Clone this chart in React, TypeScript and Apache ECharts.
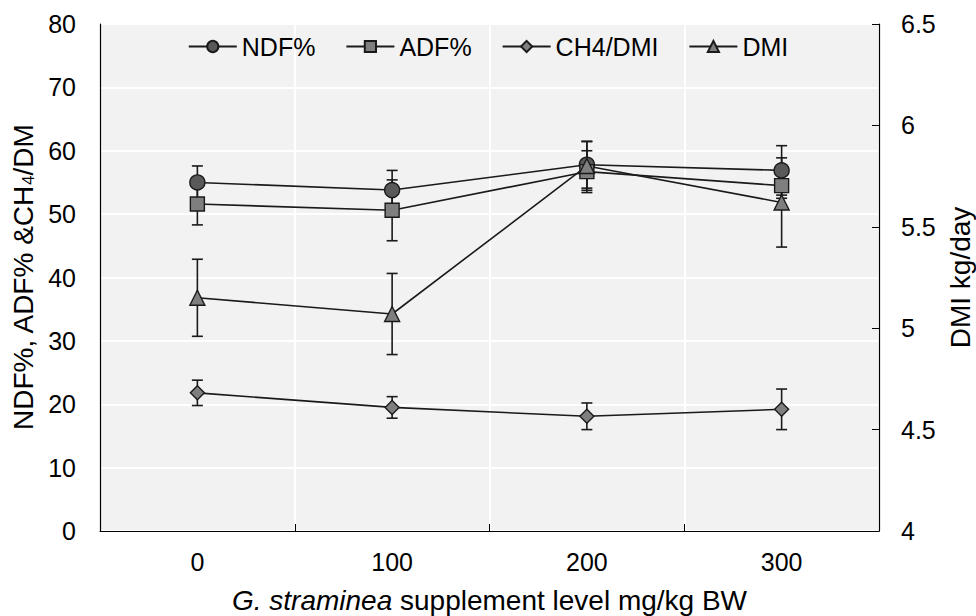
import React, { useEffect, useRef } from "react";
import * as echarts from "echarts";

const categories = ["0", "100", "200", "300"];
const ndf = [55.0, 53.8, 57.8, 56.9];
const ndfErr = [2.6, 3.1, 3.7, 3.9];
const adf = [51.6, 50.6, 56.7, 54.5];
const adfErr = [3.3, 4.8, 3.3, 2.0];
const ch4 = [21.8, 19.5, 18.1, 19.2];
const ch4Err = [2.0, 1.7, 2.1, 3.2];
const dmi = [5.15, 5.07, 5.8, 5.62];
const dmiErr = [0.19, 0.2, 0.12, 0.22];

const FONT = "'Liberation Sans', Arial, sans-serif";
const TICK = 25;
const TITLE = 28;

function errSeries(name: string, vals: number[], errs: number[], yAxisIndex: number) {
  return {
    type: "custom",
    name: name + " err",
    yAxisIndex,
    z: 1,
    silent: true,
    data: vals.map((v, i) => [i, v - errs[i], v + errs[i]]),
    encode: { x: 0, y: [1, 2] },
    renderItem: (_params: any, api: any) => {
      const x = api.value(0);
      const lo = api.coord([x, api.value(1)]);
      const hi = api.coord([x, api.value(2)]);
      const w = 5.5;
      const style = { stroke: "#1a1a1a", lineWidth: 1.6 };
      return {
        type: "group",
        children: [
          { type: "line", shape: { x1: hi[0], y1: hi[1], x2: lo[0], y2: lo[1] }, style },
          { type: "line", shape: { x1: hi[0] - w, y1: hi[1], x2: hi[0] + w, y2: hi[1] }, style },
          { type: "line", shape: { x1: lo[0] - w, y1: lo[1], x2: lo[0] + w, y2: lo[1] }, style },
        ],
      };
    },
  };
}

function lineSeries(name: string, vals: number[], symbol: string, size: number, color: string, yAxisIndex: number) {
  return {
    type: "line",
    name,
    yAxisIndex,
    z: 3,
    data: vals,
    symbol,
    symbolSize: size,
    showAllSymbol: true,
    lineStyle: { color: "#1a1a1a", width: 1.6 },
    itemStyle: { color, borderColor: "#1a1a1a", borderWidth: 1.4 },
  };
}

export default function App() {
  const ref = useRef<HTMLDivElement>(null);
  useEffect(() => {
    document.body.style.margin = "0";
    if (!ref.current) return;
    const chart = echarts.init(ref.current, null, { renderer: "svg" });
    chart.setOption({
      animation: false,
      textStyle: { fontFamily: FONT },
      grid: {
        left: 100,
        right: 97,
        top: 24,
        bottom: 85,
        show: true,
        backgroundColor: "#f2f2f2",
        borderWidth: 0,
        containLabel: false,
        outerBoundsMode: "none",
      },
      legend: {
        top: 29,
        left: "center",
        itemWidth: 48,
        itemHeight: 14,
        itemGap: 30,
        textStyle: { fontSize: 25, color: "#000", fontFamily: FONT },
        data: ["NDF%", "ADF%", "CH4/DMI", "DMI"],
      },
      xAxis: {
        type: "category",
        data: categories,
        boundaryGap: true,
        axisLine: { lineStyle: { color: "#000", width: 1.2 } },
        axisTick: { show: true, inside: true, length: 7, lineStyle: { color: "#000" } },
        axisLabel: { fontSize: TICK, color: "#000", margin: 18, fontFamily: FONT },
        splitLine: { show: true, lineStyle: { color: "#ffffff", width: 2 } },
        name: "{i|G. straminea} supplement level mg/kg BW",
        nameLocation: "middle",
        nameGap: 55,
        nameTextStyle: {
          fontSize: TITLE,
          color: "#000",
          fontFamily: FONT,
          rich: { i: { fontStyle: "italic", fontSize: TITLE, color: "#000", fontFamily: FONT } },
        },
      },
      yAxis: [
        {
          type: "value",
          min: 0,
          max: 80,
          interval: 10,
          axisLine: { show: true, lineStyle: { color: "#000", width: 1.2 } },
          axisTick: { show: false },
          axisLabel: { fontSize: TICK, color: "#000", margin: 24, fontFamily: FONT },
          splitLine: { show: true, lineStyle: { color: "#ffffff", width: 2 } },
          name: "NDF%, ADF% &CH{sub|4}/DM",
          nameLocation: "middle",
          nameRotate: 90,
          nameGap: 63,
          nameTextStyle: {
            fontSize: TITLE,
            color: "#000",
            fontFamily: FONT,
            rich: { sub: { fontSize: 17, color: "#000", verticalAlign: "bottom", fontFamily: FONT } },
          },
        },
        {
          type: "value",
          min: 4,
          max: 6.5,
          interval: 0.5,
          position: "right",
          axisLine: { show: true, lineStyle: { color: "#000", width: 1.2 } },
          axisTick: { show: true, inside: true, length: 7, lineStyle: { color: "#000" } },
          axisLabel: { fontSize: TICK, color: "#000", margin: 22, fontFamily: FONT },
          splitLine: { show: false },
          name: "DMI kg/day",
          nameLocation: "middle",
          nameRotate: 90,
          nameGap: 67,
          nameTextStyle: { fontSize: TITLE, color: "#000", fontFamily: FONT },
        },
      ],
      series: [
        errSeries("NDF%", ndf, ndfErr, 0),
        errSeries("ADF%", adf, adfErr, 0),
        errSeries("CH4/DMI", ch4, ch4Err, 0),
        errSeries("DMI", dmi, dmiErr, 1),
        lineSeries("NDF%", ndf, "circle", 15, "#595959", 0),
        lineSeries("ADF%", adf, "rect", 14, "#7f7f7f", 0),
        lineSeries("CH4/DMI", ch4, "diamond", 14, "#7f7f7f", 0),
        lineSeries("DMI", dmi, "triangle", 15, "#7f7f7f", 1),
      ],
    });
    return () => chart.dispose();
  }, []);
  return <div ref={ref} style={{ width: 976, height: 616 }} />;
}
